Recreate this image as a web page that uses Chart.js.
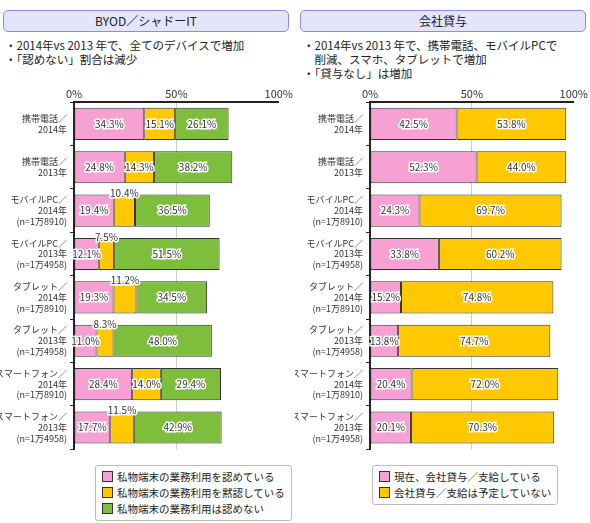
<!DOCTYPE html>
<html><head><meta charset="utf-8">
<script src="https://cdn.jsdelivr.net/npm/chart.js@4/dist/chart.umd.min.js"></script>
<style>
body{margin:0;background:#fff;font-family:"Noto Sans CJK JP",sans-serif;color:#222;width:590px;height:523px;position:relative;overflow:hidden}
.hd{position:absolute;top:10px;height:20px;border:1px solid #8c8cdc;border-radius:5px;background:#e4e4fb;text-align:center;font-size:12px;line-height:20px}
.nt{position:absolute;font-size:11.5px;line-height:14px;white-space:pre}
.cv{position:absolute;top:83px}
.lg{position:absolute;border:1px solid #bbb;border-radius:3px;font-size:10.5px;line-height:16px;padding:3px 6px;background:#fff}
.lg span{display:inline-block;width:9px;height:9px;border:1px solid #333;margin-right:4px;vertical-align:-1px}
</style></head><body>
<div class="hd" style="left:3px;width:284px">BYOD／シャドーIT</div>
<div class="hd" style="left:300px;width:284px">会社貸与</div>
<div class="nt" style="left:5px;top:38px">・2014年vs 2013 年で、全てのデバイスで増加
・「認めない」割合は減少</div>
<div class="nt" style="left:303px;top:38px">・2014年vs 2013 年で、携帯電話、モバイルPCで
　削減、スマホ、タブレットで増加
・「貸与なし」は増加</div>
<div class="cv" style="left:0;width:295px;height:380px"><canvas id="c1"></canvas></div>
<div class="cv" style="left:295px;width:295px;height:380px"><canvas id="c2"></canvas></div>
<div class="lg" style="left:95px;top:465px">
<div><span style="background:#f7a0d3"></span>私物端末の業務利用を認めている</div>
<div><span style="background:#ffc800"></span>私物端末の業務利用を黙認している</div>
<div><span style="background:#7dbf3c"></span>私物端末の業務利用は認めない</div></div>
<div class="lg" style="left:372px;top:465px">
<div><span style="background:#f7a0d3"></span>現在、会社貸与／支給している</div>
<div><span style="background:#ffc800"></span>会社貸与／支給は予定していない</div></div>
<script>
const categories = [
  ['携帯電話／','2014年'], ['携帯電話／','2013年'],
  ['モバイルPC／','2014年','(n=1万8910)'], ['モバイルPC／','2013年','(n=1万4958)'],
  ['タブレット／','2014年','(n=1万8910)'], ['タブレット／','2013年','(n=1万4958)'],
  ['スマートフォン／','2014年','(n=1万8910)'], ['スマートフォン／','2013年','(n=1万4958)']
];
const byodAllow   = [34.3, 24.8, 19.4, 12.1, 19.3, 11.0, 28.4, 17.7];
const byodTacit   = [15.1, 14.3, 10.4, 7.5, 11.2, 8.3, 14.0, 11.5];
const byodDeny    = [26.1, 38.2, 36.5, 51.5, 34.5, 48.0, 29.4, 42.9];
const lendYes     = [42.5, 52.3, 24.3, 33.8, 15.2, 13.8, 20.4, 20.1];
const lendNo      = [53.8, 44.0, 69.7, 60.2, 74.8, 74.7, 72.0, 70.3];
const ticks = [0, 50, 100];

const PINK = '#f7a0d3', YEL = '#ffc800', GRN = '#7dbf3c';

const labelPlugin = {
  id: 'vals',
  afterDatasetsDraw(chart) {
    const ctx = chart.ctx;
    ctx.save();
    ctx.font = '10px "Noto Sans CJK JP"';
    ctx.textAlign = 'center';
    ctx.textBaseline = 'middle';
    chart.data.datasets.forEach((ds, i) => {
      chart.getDatasetMeta(i).data.forEach((bar, j) => {
        const v = ds.data[j];
        const x = (bar.x + bar.base) / 2;
        let y = bar.y;
        if (i === 1 && v < 12 && chart.data.datasets.length === 3) y = bar.y - bar.height / 2 - 1;
        ctx.lineWidth = 3; ctx.strokeStyle = '#fff';
        ctx.strokeText(v.toFixed(1) + '%', x, y);
        ctx.fillStyle = '#333';
        ctx.fillText(v.toFixed(1) + '%', x, y);
      });
    });
    ctx.restore();
  }
};

function makeChart(id, sets, yw, padR) {
  new Chart(document.getElementById(id), {
    type: 'bar',
    data: {
      labels: categories,
      datasets: sets.map(s => ({ data: s[0], backgroundColor: s[1], borderColor: '#333', borderWidth: 1, borderSkipped: false, barPercentage: 0.74, categoryPercentage: 1 }))
    },
    options: {
      indexAxis: 'y', responsive: true, maintainAspectRatio: false, animation: false,
      layout: { padding: { right: padR, top: 0, bottom: 0, left: 0 } },
      plugins: { legend: { display: false }, tooltip: { enabled: false } },
      scales: {
        x: {
          position: 'top', stacked: true, min: 0, max: 100,
          afterBuildTicks: s => { s.ticks = ticks.map(v => ({ value: v })); },
          ticks: { callback: v => v + '%', color: '#333', font: { size: 11, family: 'Noto Sans CJK JP' }, padding: 2, align: 'center' },
          grid: { color: c => c.tick && c.tick.value === 50 ? '#ccc' : 'transparent', drawTicks: false },
          border: { color: '#222', width: 2 }
        },
        y: {
          stacked: true,
          afterFit: s => { s.width = yw; },
          ticks: { color: '#333', font: { size: 9, family: 'Noto Sans CJK JP', lineHeight: 1.2 }, padding: 3 },
          grid: { offset: true, drawOnChartArea: false, tickLength: 4, color: '#222' },
          border: { color: '#222', width: 2 }
        }
      }
    },
    plugins: [labelPlugin,
      { id: 'fitpad', beforeLayout(chart) { chart.options.layout.padding.right = padR; } }]
  });
}
makeChart('c1', [[byodAllow, PINK], [byodTacit, YEL], [byodDeny, GRN]], 74, 0);
makeChart('c2', [[lendYes, PINK], [lendNo, YEL]], 75, 6);
</script>
</body></html>
